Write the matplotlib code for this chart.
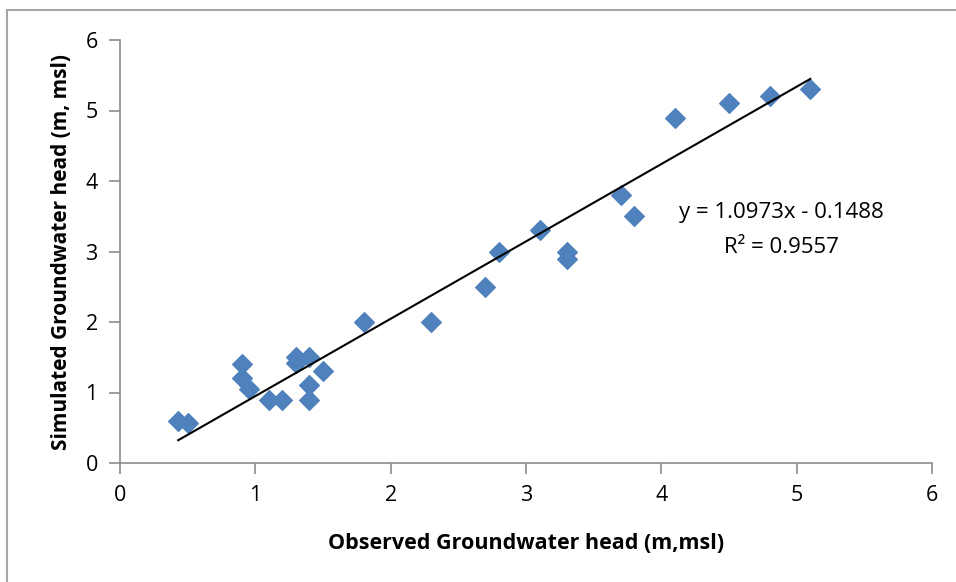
import numpy as np
import matplotlib.pyplot as plt
from matplotlib.patches import Rectangle

plt.rcParams['font.family'] = ['Open Sans', 'DejaVu Sans']

# observed vs simulated groundwater head (m, msl)
observed = [0.43, 0.5, 0.9, 0.9, 0.95, 1.1, 1.2, 1.3, 1.3, 1.4, 1.4, 1.4, 1.5,
            1.8, 2.3, 2.7, 2.8, 3.1, 3.3, 3.3, 3.7, 3.8, 4.1, 4.5, 4.8, 5.1]
simulated = [0.6, 0.57, 1.4, 1.2, 1.05, 0.9, 0.9, 1.5, 1.42, 1.5, 1.1, 0.9, 1.3,
             2.0, 2.0, 2.5, 3.0, 3.3, 2.99, 2.9, 3.8, 3.5, 4.89, 5.1, 5.2, 5.3]

slope = 1.0973
intercept = -0.1488
r2 = 0.9557

ticks = [0, 1, 2, 3, 4, 5, 6]

fig = plt.figure(figsize=(9.56, 5.82), dpi=100)
ax = fig.add_axes([120/956, 1 - 463/582, 812/956, 423/582])

# outer chart border (only left/top edges fall inside the image)
fig.patches.append(Rectangle((7/956, -0.1), 1.2, 1.1 - 10/582, transform=fig.transFigure,
                             fill=False, edgecolor='#A6A6A6', linewidth=1.5))

ax.scatter(observed, simulated, marker='D', s=100, color='#4F81BD',
           edgecolors='#4F81BD', zorder=3)

# linear trendline
xl = np.array([min(observed), max(observed)])
ax.plot(xl, slope * xl + intercept, color='black', linewidth=1.5, zorder=4)

ax.text(4.89, 3.55, 'y = 1.0973x - 0.1488', ha='center', va='center', fontsize=16)
ax.text(4.89, 3.06, 'R² = 0.9557', ha='center', va='center', fontsize=16)

ax.set_xlim(0, 6)
ax.set_ylim(0, 6)
ax.set_xticks(ticks)
ax.set_yticks(ticks)
ax.tick_params(direction='out', length=8, width=1.2, color='#8C8C8C',
               labelsize=15.5, pad=8)
for side in ['top', 'right']:
    ax.spines[side].set_visible(False)
for side in ['left', 'bottom']:
    ax.spines[side].set_color('#8C8C8C')
    ax.spines[side].set_linewidth(1.2)

ax.set_xlabel('Observed Groundwater head (m,msl)', fontsize=15.5, fontweight='bold', labelpad=19)
ax.set_ylabel('Simulated Groundwater head (m, msl)', fontsize=15, fontweight='bold', labelpad=10)

fig.savefig('out.png', dpi=100)
